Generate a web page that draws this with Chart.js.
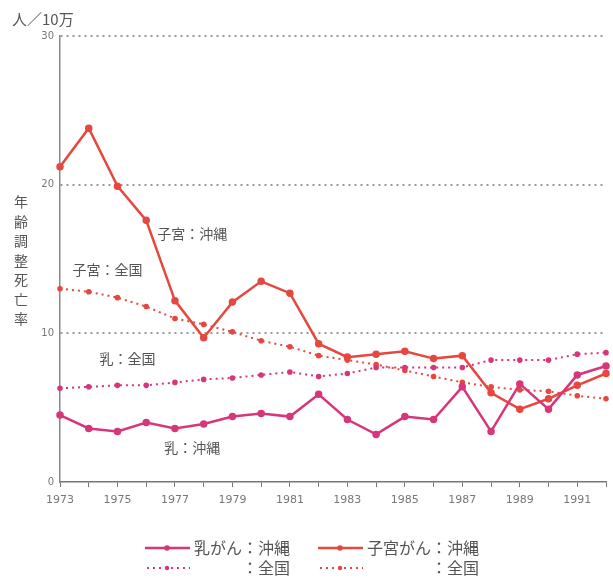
<!DOCTYPE html>
<html>
<head>
<meta charset="utf-8">
<script src="https://cdn.jsdelivr.net/npm/chart.js@4"></script>
<style>
  html, body { margin: 0; padding: 0; background: #fff; }
  #wrap { width: 613px; height: 578px; position: relative; }
</style>
</head>
<body>
<div id="wrap"><canvas id="myLineChart"></canvas></div>
<script>
var years = ["1973", "1974", "1975", "1976", "1977", "1978", "1979", "1980", "1981", "1982",
  "1983", "1984", "1985", "1986", "1987", "1988", "1989", "1990", "1991", "1992"];

// 年齢調整死亡率 (人/10万)
var nyuOkinawa = [4.5, 3.6, 3.4, 4.0, 3.6, 3.9, 4.4, 4.6, 4.4, 5.9,
  4.2, 3.2, 4.4, 4.2, 6.4, 3.4, 6.6, 4.9, 7.2, 7.8];
var nyuZenkoku = [6.3, 6.4, 6.5, 6.5, 6.7, 6.9, 7.0, 7.2, 7.4, 7.1,
  7.3, 7.7, 7.7, 7.7, 7.7, 8.2, 8.2, 8.2, 8.6, 8.7];
var shikyuOkinawa = [21.2, 23.8, 19.9, 17.6, 12.2, 9.7, 12.1, 13.5, 12.7, 9.3,
  8.4, 8.6, 8.8, 8.3, 8.5, 6.0, 4.9, 5.6, 6.5, 7.3];
var shikyuZenkoku = [13.0, 12.8, 12.4, 11.8, 11.0, 10.6, 10.1, 9.5, 9.1, 8.5,
  8.2, 7.9, 7.5, 7.1, 6.7, 6.4, 6.2, 6.1, 5.8, 5.6];

var yTicks = [0, 10, 20, 30];

// 線の横のラベル: [テキスト, 年の位置, 値]
var etiquetas = [
  ["子宮：沖縄", 4.6, 16.7],
  ["子宮：全国", 1.65, 14.3],
  ["乳：全国", 2.35, 8.3],
  ["乳：沖縄", 4.6, 2.3],
];

var colorNyu = "#d8367a";
var colorShikyu = "#e5483f";
var fontJP = "'Noto Sans CJK JP', 'Noto Sans', sans-serif";

var textosPlugin = {
  id: "textos",
  afterDraw: function (chart) {
    var ctx = chart.ctx;
    var xs = chart.scales.x;
    var ys = chart.scales.y;
    ctx.save();
    ctx.fillStyle = "#555";
    ctx.textAlign = "center";
    ctx.textBaseline = "middle";
    ctx.font = "14px " + fontJP;
    etiquetas.forEach((item) => {
      ctx.fillText(item[0], xs.getPixelForValue(item[1]), ys.getPixelForValue(item[2]));
    });

    // unidad
    ctx.textAlign = "left";
    ctx.font = "15px " + fontJP;
    ctx.fillText("人／10万", 12, 19);

    // titulo vertical
    ctx.textAlign = "center";
    ctx.font = "14px " + fontJP;
    var vert = "年齢調整死亡率";
    for (var i = 0; i < vert.length; i++) {
      ctx.fillText(vert[i], 21, 202 + i * 19.5);
    }

    // leyenda
    var filas = [
      { x: 145, color: colorNyu, pre: "乳がん", post: "：沖縄" },
      { x: 318, color: colorShikyu, pre: "子宮がん", post: "：沖縄" },
    ];
    ctx.font = "16px " + fontJP;
    ctx.textBaseline = "middle";
    filas.forEach((f) => {
      ctx.strokeStyle = f.color;
      ctx.fillStyle = f.color;
      ctx.lineWidth = 2.5;
      ctx.setLineDash([]);
      ctx.beginPath();
      ctx.moveTo(f.x, 548);
      ctx.lineTo(f.x + 45, 548);
      ctx.stroke();
      ctx.beginPath();
      ctx.arc(f.x + 22, 548, 2.8, 0, Math.PI * 2);
      ctx.fill();

      ctx.lineWidth = 2;
      ctx.setLineDash([2, 4]);
      ctx.beginPath();
      ctx.moveTo(f.x + 2, 568);
      ctx.lineTo(f.x + 45, 568);
      ctx.stroke();
      ctx.setLineDash([]);
      ctx.beginPath();
      ctx.arc(f.x + 22, 568, 2.2, 0, Math.PI * 2);
      ctx.fill();

      ctx.fillStyle = "#555";
      ctx.textAlign = "left";
      var tx = f.x + 49;
      var w = ctx.measureText(f.pre).width;
      ctx.fillText(f.pre, tx, 548);
      ctx.fillText(f.post, tx + w, 548);
      ctx.fillText("：全国", tx + w, 568);
    });
    ctx.restore();
  },
};

var ctx = document.getElementById("myLineChart");

new Chart(ctx, {
  type: "line",
  data: {
    labels: years,
    datasets: [
      {
        label: "乳がん：沖縄",
        data: nyuOkinawa,
        borderColor: colorNyu,
        backgroundColor: colorNyu,
        borderWidth: 2.5,
        pointRadius: 2.5,
        tension: 0,
      },
      {
        label: "乳がん：全国",
        data: nyuZenkoku,
        borderColor: colorNyu,
        backgroundColor: colorNyu,
        borderWidth: 2,
        borderDash: [2, 4],
        pointRadius: 1.8,
        tension: 0,
      },
      {
        label: "子宮がん：沖縄",
        data: shikyuOkinawa,
        borderColor: colorShikyu,
        backgroundColor: colorShikyu,
        borderWidth: 2.5,
        pointRadius: 2.5,
        tension: 0,
      },
      {
        label: "子宮がん：全国",
        data: shikyuZenkoku,
        borderColor: colorShikyu,
        backgroundColor: colorShikyu,
        borderWidth: 2,
        borderDash: [2, 4],
        pointRadius: 1.8,
        tension: 0,
      },
    ],
  },
  options: {
    responsive: true,
    maintainAspectRatio: false,
    animation: false,
    layout: {
      padding: { top: 36, right: 7, left: 0, bottom: 0 },
    },
    plugins: {
      legend: { display: false },
      tooltip: { enabled: false },
      title: { display: false },
    },
    scales: {
      x: {
        type: "category",
        offset: false,
        afterFit: function (scale) {
          scale.height = 96;
        },
        grid: {
          drawOnChartArea: false,
          drawTicks: true,
          tickLength: 5,
          tickColor: "#777",
        },
        border: { color: "#777", width: 1.5 },
        ticks: {
          autoSkip: false,
          maxRotation: 0,
          padding: 7,
          color: "#777",
          font: { family: "'DejaVu Sans', sans-serif", size: 11 },
          callback: function (value, index) {
            return index % 2 === 0 ? years[index] : "";
          },
        },
      },
      y: {
        min: 0,
        max: 30,
        afterFit: function (scale) {
          scale.width = 60;
        },
        afterBuildTicks: function (scale) {
          scale.ticks = yTicks.map((v) => ({ value: v }));
        },
        grid: {
          drawTicks: false,
          lineWidth: 2,
          color: function (c) {
            return c.tick && c.tick.value === 0 ? "rgba(0,0,0,0)" : "#999";
          },
        },
        border: { color: "#888", width: 1.5, dash: [2, 4] },
        ticks: {
          padding: 6,
          color: "#777",
          font: { family: "'DejaVu Sans', sans-serif", size: 10 },
        },
      },
    },
  },
  plugins: [textosPlugin],
});
</script>
</body>
</html>
